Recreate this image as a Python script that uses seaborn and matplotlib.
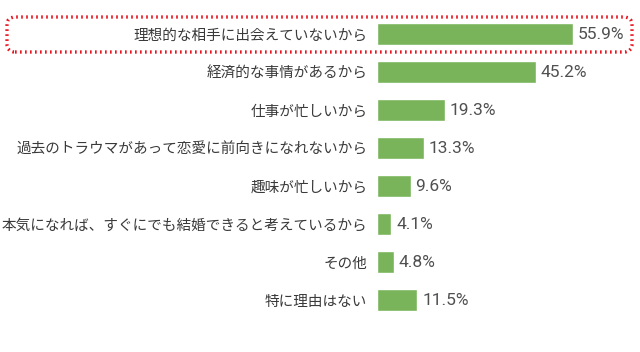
import matplotlib
matplotlib.use('Agg')
import matplotlib.pyplot as plt
import seaborn as sns
import pandas as pd
from matplotlib.patches import FancyBboxPatch

categories = [
    '理想的な相手に出会えていないから',
    '経済的な事情があるから',
    '仕事が忙しいから',
    '過去のトラウマがあって恋愛に前向きになれないから',
    '趣味が忙しいから',
    '本気になれば、すぐにでも結婚できると考えているから',
    'その他',
    '特に理由はない',
]
values = [55.9, 45.2, 19.3, 13.3, 9.6, 4.1, 4.8, 11.5]

sns.set_style('white')
plt.rcParams['font.family'] = ['Noto Sans CJK JP', 'DejaVu Sans']

df = pd.DataFrame({'reason': categories, 'pct': values})

fig = plt.figure(figsize=(6.4, 3.52), dpi=100)
ax = fig.add_axes([377 / 640, 0, 263 / 640, 1])

sns.barplot(data=df, x='pct', y='reason', orient='h', color='#79b45a',
            saturation=1, width=0.58, ax=ax)

ax.set_xlim(0, 75)
ax.set_ylim(8.368, -0.895)
ax.set_xlabel('')
ax.set_ylabel('')
ax.set_xticks([])
ax.tick_params(axis='y', length=0, pad=7, labelsize=10.5, labelcolor='#3a3a3a')
sns.despine(ax=ax, left=True, bottom=True)

ax.bar_label(ax.containers[0], fmt='%.1f%%', padding=3.5, fontsize=12.5,
             color='#505050', family=['Roboto', 'DejaVu Sans'])

# dotted highlight around the first row
box = FancyBboxPatch((0.07, 3.00), 6.25, 0.35,
                     boxstyle='round,pad=0,rounding_size=0.08',
                     transform=fig.dpi_scale_trans, fill=False,
                     edgecolor='#e8141e', linewidth=2.4, linestyle=(0, (0.5, 1.0)))
fig.patches.append(box)

fig.savefig('out.png', dpi=100)
